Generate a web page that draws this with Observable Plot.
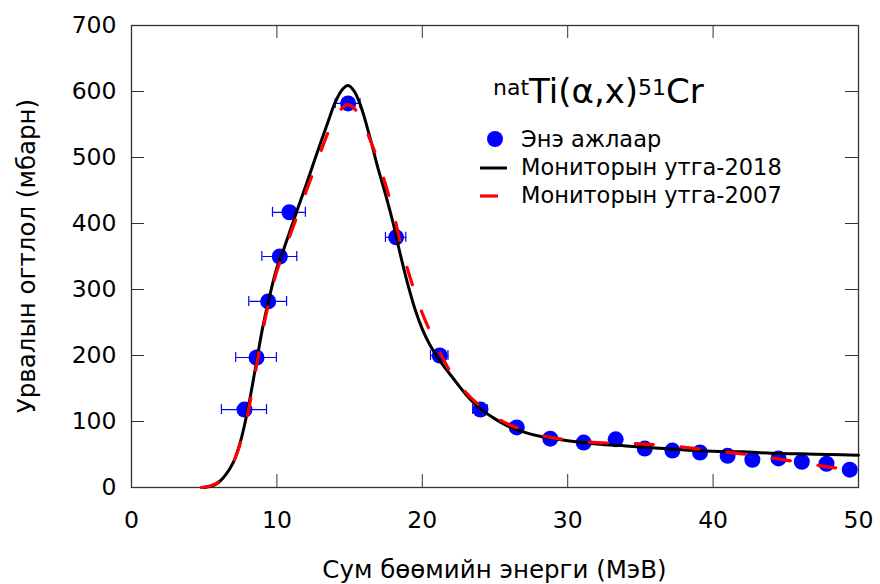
<!DOCTYPE html>
<html>
<head>
<meta charset="utf-8">
<script src="https://cdn.jsdelivr.net/npm/d3@7"></script>
<script src="https://cdn.jsdelivr.net/npm/@observablehq/plot@0.6"></script>
<style>
  html, body { margin: 0; padding: 0; background: #fff; }
  #chart svg { display: block; }
</style>
</head>
<body>
<div id="chart"></div>
<script>
// Experimental points (this work)
const pointEnergy = [7.77, 8.6, 9.4, 10.2, 10.86, 14.9, 18.2, 21.2, 24.0, 26.5, 28.8, 31.1, 33.3, 35.3, 37.2, 39.1, 41.0, 42.7, 44.5, 46.1, 47.8, 49.4];
const pointSigma  = [118, 197, 282, 350, 417, 582, 379, 200, 118, 91, 74, 68, 73, 59, 56, 53, 48, 42, 44, 39, 36, 27];
const pointErrE   = [1.55, 1.4, 1.3, 1.2, 1.13, 0.85, 0.7, 0.6, 0.5, 0.4, 0.35, 0.3, 0.3, 0.3, 0.3, 0.3, 0.3, 0.3, 0.3, 0.3, 0.3, 0.3];

// Monitor values 2018
const energy2018 = [5, 5.5, 6, 6.5, 7, 7.5, 8, 8.5, 9, 9.5, 10, 10.5, 11, 11.5, 12, 12.5, 13, 13.5, 14, 14.5, 14.9, 15.3, 15.7, 16, 16.5, 17, 17.5, 18, 18.5, 19, 19.5, 20, 20.5, 21, 21.5, 22, 23, 24, 25, 26, 27, 28, 30, 32, 34, 36, 38, 40, 42, 44, 46, 48, 50];
const sigma2018  = [0, 2, 8, 20, 38, 70, 118, 178, 240, 290, 333, 363, 395, 427, 458, 490, 522, 553, 583, 603, 609, 601, 582, 562, 522, 480, 442, 400, 352, 308, 270, 240, 217, 199, 183, 169, 141, 119, 104, 92, 84, 78, 71, 66, 63, 60, 57, 55, 54, 52, 51, 50, 49];

// Monitor values 2007
const energy2007 = [4.8, 5.5, 6, 6.5, 7, 7.5, 8, 8.5, 9, 9.5, 10, 10.5, 11, 11.5, 12, 12.5, 13, 13.5, 14, 14.5, 14.9, 15.5, 16, 16.5, 17, 17.5, 18, 18.5, 19, 19.5, 20, 20.5, 21, 22, 23, 24, 25, 26, 28, 30, 32, 34, 36, 38, 40, 42, 44, 46, 48, 50];
const sigma2007  = [0, 3, 9, 20, 38, 68, 112, 172, 234, 286, 328, 358, 388, 418, 448, 478, 508, 537, 560, 575, 580, 570, 548, 522, 492, 457, 418, 370, 330, 295, 264, 238, 214, 173, 144, 123, 107, 95, 80, 72, 68, 67, 65, 61, 56, 51, 45, 38, 31, 26];

const xTicks = [0, 10, 20, 30, 40, 50];
const yTicks = [0, 100, 200, 300, 400, 500, 600, 700];

const xLabel = "Сум бөөмийн энерги (МэВ)";
const yLabel = "Урвалын огтлол (мбарн)";
const legendLabels = ["Энэ ажлаар", "Мониторын утга-2018", "Мониторын утга-2007"];

const points = pointEnergy.map((e, i) => ({e, s: pointSigma[i], de: pointErrE[i]}));
const line2018 = energy2018.map((e, i) => ({e, s: sigma2018[i]}));
const line2007 = energy2007.map((e, i) => ({e, s: sigma2007[i]}));

const W = 880, H = 584;
const mL = 131, mR = 22, mT = 25, mB = 97;
const plotH = H - mT - mB, plotW = W - mL - mR;
const tickLen = 13;
const dash = "18,28";

const chart = Plot.plot({
  width: W, height: H,
  marginLeft: mL, marginRight: mR, marginTop: mT, marginBottom: mB,
  style: {fontFamily: "DejaVu Sans, Verdana, sans-serif", fontSize: "23px", color: "#000", background: "#fff"},
  x: {type: "linear", domain: [0, 50]},
  y: {type: "linear", domain: [0, 700]},
  marks: [
    Plot.axisX(xTicks, {anchor: "bottom", tickSize: 0, tickPadding: 24, label: null, fontSize: 23.5}),
    Plot.axisY(yTicks, {anchor: "left", tickSize: 0, tickPadding: 15, label: null, fontSize: 23.5}),
    Plot.tickX(xTicks, {x: d => d, stroke: "#333", insetTop: plotH - tickLen}),
    Plot.tickX(xTicks, {x: d => d, stroke: "#333", insetBottom: plotH - tickLen}),
    Plot.tickY(yTicks, {y: d => d, stroke: "#333", insetRight: plotW - tickLen}),
    Plot.tickY(yTicks, {y: d => d, stroke: "#333", insetLeft: plotW - tickLen}),
    Plot.frame({stroke: "#333", strokeWidth: 1.3}),
    Plot.link(points, {x1: d => d.e - d.de, x2: d => d.e + d.de, y1: "s", y2: "s", stroke: "#0000ff", strokeWidth: 1.2}),
    Plot.dot(points, {x: "e", y: "s", r: 8, fill: "#0000ff", stroke: null}),
    Plot.line(line2018, {x: "e", y: "s", stroke: "#000", strokeWidth: 3, curve: "catmull-rom"}),
    Plot.line(line2007, {x: "e", y: "s", stroke: "#ff0000", strokeWidth: 3.2, strokeDasharray: dash, curve: "catmull-rom"})
  ]
});
document.getElementById("chart").appendChild(chart);

const svg = d3.select(chart);

// error bar caps (positions through the plot's scales)
const xs = chart.scale("x"), ys = chart.scale("y");
const caps = svg.insert("g", "g[aria-label='dot']").attr("stroke", "#0000ff").attr("stroke-width", 1.2);
points.forEach(p => {
  [p.e - p.de, p.e + p.de].forEach(xe => {
    const px = xs.apply(xe), py = ys.apply(p.s);
    caps.append("line").attr("x1", px).attr("x2", px).attr("y1", py - 5).attr("y2", py + 5);
  });
});

// axis titles
svg.append("text")
  .attr("x", mL + plotW / 2).attr("y", 578)
  .attr("text-anchor", "middle")
  .attr("font-size", 24.5)
  .text(xLabel);
svg.append("text")
  .attr("transform", `translate(35, ${mT + plotH / 2}) rotate(-90)`)
  .attr("text-anchor", "middle")
  .attr("font-size", 24.5)
  .text(yLabel);

// reaction title
const title = svg.append("text").attr("x", 493).attr("y", 103).attr("font-size", 34).attr("text-anchor", "start");
title.append("tspan").attr("font-size", 22).attr("dy", -8).text("nat");
title.append("tspan").attr("dy", 8).text("Ti(α,x)");
title.append("tspan").attr("font-size", 22).attr("dy", -8).text("51");
title.append("tspan").attr("dy", 8).text("Cr");

// legend
const lg = svg.append("g").attr("font-size", 22.5).attr("text-anchor", "start");
lg.append("circle").attr("cx", 495).attr("cy", 139).attr("r", 8).attr("fill", "#0000ff");
lg.append("line").attr("x1", 480).attr("x2", 507).attr("y1", 168).attr("y2", 168).attr("stroke", "#000").attr("stroke-width", 3);
lg.append("line").attr("x1", 480).attr("x2", 507).attr("y1", 196).attr("y2", 196).attr("stroke", "#ff0000").attr("stroke-width", 3.2).attr("stroke-dasharray", dash);
legendLabels.forEach((t, i) => {
  lg.append("text").attr("x", 521).attr("y", 147 + i * 28).text(t);
});
</script>
</body>
</html>
